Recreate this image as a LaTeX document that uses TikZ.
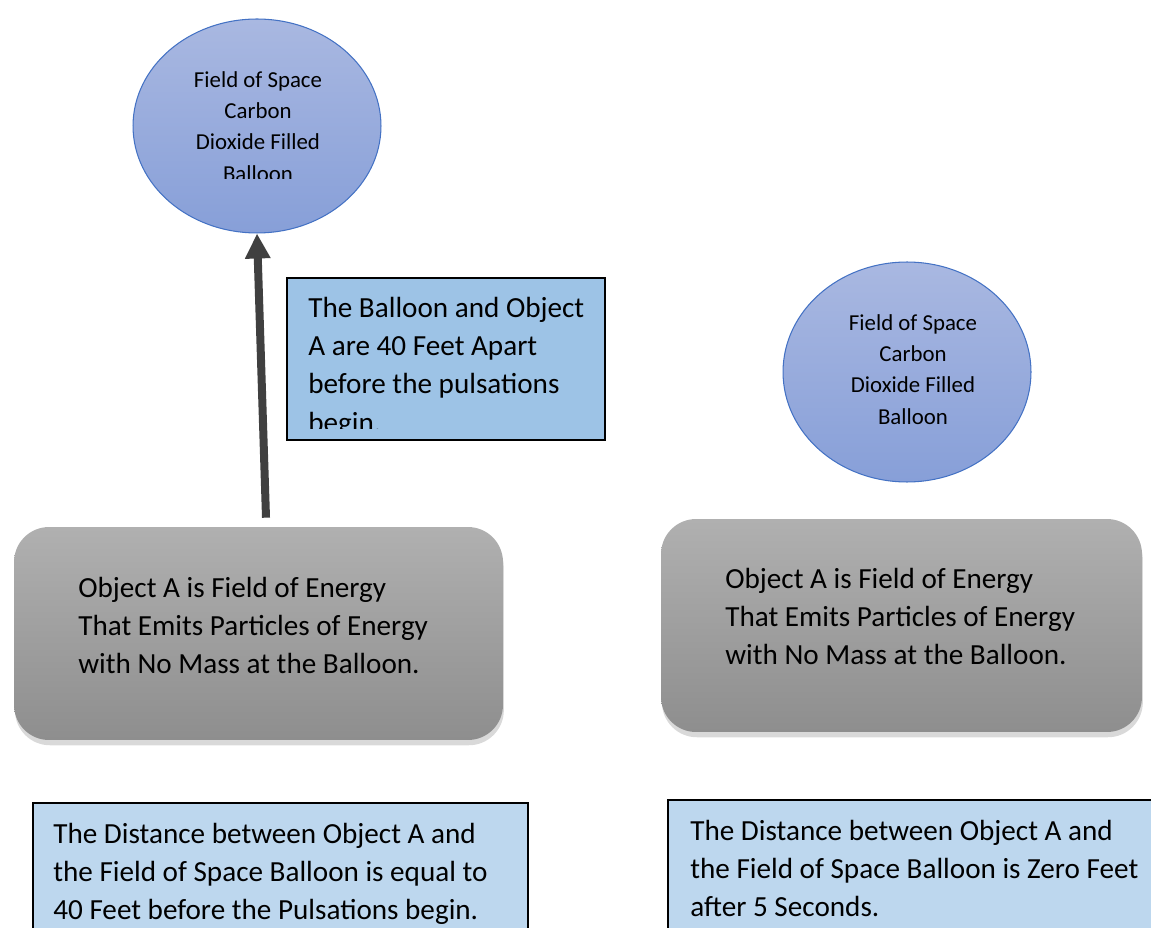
\documentclass[tikz,border=0pt]{standalone}
\usepackage{fontspec}
\setmainfont{Carlito}
\usetikzlibrary{positioning, arrows.meta, shapes.geometric, shadows}

\begin{document}
\begin{tikzpicture}[x=0.02cm,y=-0.02cm,
  balloon/.style={ellipse, draw=balloonedge, line width=0.6pt,
    top color=balloontop, bottom color=balloonbot, minimum width=4.96cm},
  notebox/.style={rectangle, draw=black, line width=1.1pt, inner sep=0pt},
  objbox/.style={rectangle, rounded corners=0.7cm, top color=graytop,
    bottom color=graybot, minimum height=4.26cm, inner sep=0pt,
    drop shadow={shadow xshift=0.5pt, shadow yshift=-3pt, opacity=0.3}},
  bigtext/.style={inner sep=0pt, align=left, anchor=north west,
    font=\fontsize{16.6}{21.8}\selectfont},
  smalltext/.style={inner sep=0pt, align=center, anchor=north,
    font=\fontsize{13}{17.8}\selectfont},
  arrowline/.style={-{Triangle[width=0.48cm,length=0.5cm]},
    line width=0.16cm, draw=arrowgray}]
\definecolor{balloonedge}{HTML}{4472C4}
\definecolor{balloontop}{HTML}{A9B8E1}
\definecolor{balloonbot}{HTML}{879FD8}
\definecolor{graytop}{HTML}{B0B0B0}
\definecolor{graybot}{HTML}{8E8E8E}
\definecolor{noteblue}{HTML}{9DC3E6}
\definecolor{distblue}{HTML}{BDD7EE}
\definecolor{arrowgray}{HTML}{404040}

\useasboundingbox (0,0) rectangle (1151,928);
\clip (0,0) rectangle (1151,928);

% Before the pulsations: the balloon is 40 feet above Object A.
\node[balloon, minimum height=4.28cm] (balloonA) at (257,126) {};
\begin{scope}
  \clip (150,40) rectangle (370,179);
  \node[smalltext] (balloonAtxt) at (258,71)
    {Field of Space\\Carbon\\Dioxide Filled\\Balloon};
\end{scope}

\node[notebox, fill=noteblue, minimum width=6.36cm, minimum height=3.24cm]
  (apart) at (446,359) {};
\begin{scope}
  \clip (290,281) rectangle (603,429);
  \node[bigtext] (aparttxt) at (308,296.5)
    {The Balloon and Object\\A are 40 Feet Apart\\before the pulsations\\begin.};
\end{scope}

\node[objbox, minimum width=9.78cm] (objA) at (258.5,633.5) {};
\node[bigtext] (objAtxt) at (78,576.5)
  {Object A is Field of Energy\\That Emits Particles of Energy\\with No Mass at the Balloon.};

\draw[arrowline] ([shift={(7.5,-9)}]objA.north) -- (balloonA.south);

\node[notebox, fill=distblue, minimum width=9.9cm, minimum height=3.94cm]
  (distA) at (280.5,901.5) {};
\node[bigtext] (distAtxt) at (53,822.5)
  {The Distance between Object A and\\the Field of Space Balloon is equal to\\40 Feet before the Pulsations begin.};

% After 5 seconds: the balloon sits on Object A.
\node[balloon, minimum height=4.4cm] (balloonB) at (907,372) {};
\node[smalltext] (balloonBtxt) at (913,314)
  {Field of Space\\Carbon\\Dioxide Filled\\Balloon};

\node[objbox, minimum width=9.62cm] (objB) at (901.5,625.5) {};
\node[bigtext] (objBtxt) at (725,567.5)
  {Object A is Field of Energy\\That Emits Particles of Energy\\with No Mass at the Balloon.};

\node[notebox, fill=distblue, minimum width=10.64cm, minimum height=4cm]
  (distB) at (934,900) {};
\node[bigtext] (distBtxt) at (690,819.5)
  {The Distance between Object A and\\the Field of Space Balloon is Zero Feet\\after 5 Seconds.};
\end{tikzpicture}
\end{document}
